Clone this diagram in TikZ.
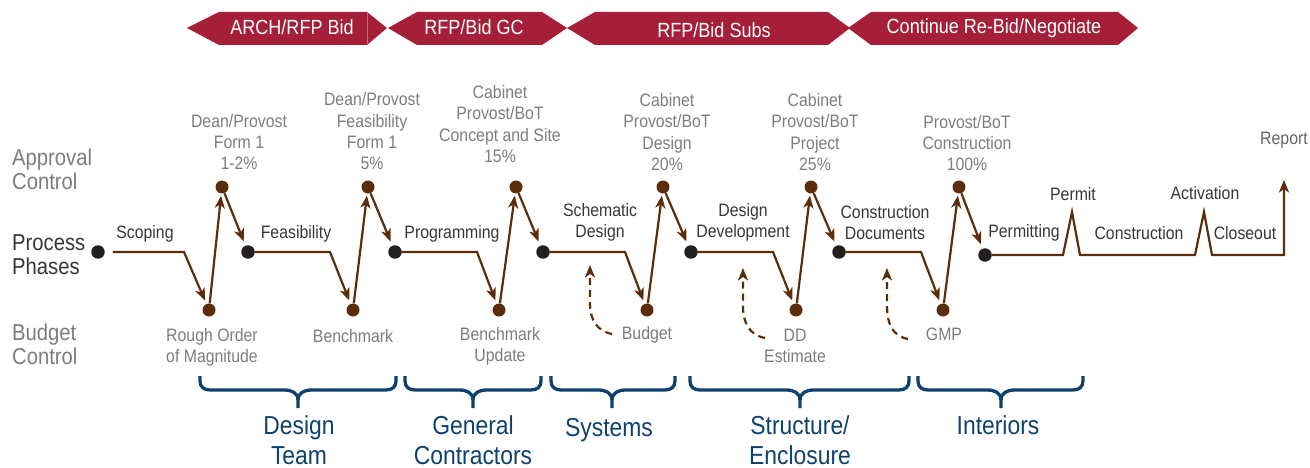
\documentclass[tikz,border=0pt]{standalone}
\usepackage{fontspec}
\setmainfont[FakeStretch=0.88]{Liberation Sans}
\usetikzlibrary{arrows.meta}
\definecolor{bannerred}{RGB}{165,31,56}
\definecolor{procbrown}{RGB}{92,45,10}
\definecolor{dotblack}{RGB}{35,31,32}
\definecolor{braceblue}{RGB}{14,66,110}
\definecolor{lblgray}{RGB}{125,125,125}
\definecolor{lbldark}{RGB}{55,55,55}
\newcommand{\bracedraw}[3]{%
  \draw[bracestyle] (#1,376) -- (#1,381) .. controls (#1,387) and ({#1+4},390) .. ({#1+10},390) -- ({#2-14},390) .. controls ({#2-6},390) and (#2,393) .. (#2,400) -- (#2,408);
  \draw[bracestyle] (#3,376) -- (#3,381) .. controls (#3,387) and ({#3-4},390) .. ({#3-10},390) -- ({#2+14},390) .. controls ({#2+6},390) and (#2,393) .. (#2,400);
}
\begin{document}
\begin{tikzpicture}[x=1pt,y=-1pt,
  pdot/.style={circle,fill=dotblack,inner sep=0pt,minimum size=13.5pt},
  adot/.style={circle,fill=procbrown,inner sep=0pt,minimum size=13pt},
  flow/.style={draw=procbrown,line width=2.2pt},
  arr/.style={flow,-{Stealth[length=12.5pt,width=10pt,inset=3.5pt]}},
  dasharr/.style={arr,dash pattern=on 7pt off 5pt},
  banner/.style={fill=bannerred,draw=none},
  bantext/.style={text=white,font=\fontsize{20.5}{24}\selectfont,inner sep=0pt,anchor=base},
  aptext/.style={text=lblgray,font=\fontsize{18}{21.3}\selectfont,align=center,inner sep=0pt},
  proctext/.style={text=lbldark,font=\fontsize{18}{21.3}\selectfont,align=center,inner sep=0pt},
  sidetext/.style={font=\fontsize{23}{24}\selectfont,align=left,anchor=west,inner sep=0pt},
  bracestyle/.style={draw=braceblue,line width=3.3pt},
  bracetext/.style={text=braceblue,font=\fontsize{26}{29.5}\selectfont,align=center,inner sep=0pt}
]
\useasboundingbox (0,0) rectangle (1310,468);

% banners
\fill[banner] (187,28) -- (219,12) -- (367,12) -- (387,28) -- (367,45) -- (219,45) -- cycle;
\draw[bannerred!65!white,line width=0.5pt] (367,12.5) -- (367,44.5);
\fill[banner] (388,28) -- (417,12) -- (542,12) -- (567,28) -- (542,45) -- (417,45) -- cycle;
\fill[banner] (567,28) -- (595,12) -- (828,12) -- (850,28) -- (828,45) -- (595,45) -- cycle;
\fill[banner] (848,28) -- (871,12) -- (1118,12) -- (1138,28) -- (1118,45) -- (871,45) -- cycle;
\node[bantext] (bn1) at (292,35) {ARCH/RFP Bid};
\node[bantext] (bn2) at (474,35) {RFP/Bid GC};
\node[bantext] (bn3) at (714,38) {RFP/Bid Subs};
\node[bantext] (bn4) at (994,34) {Continue Re-Bid/Negotiate};

% side labels
\node[sidetext,text=lblgray] (sa) at (12,169) {Approval\\Control};
\node[sidetext,text=lbldark] (sp) at (12,254.5) {Process\\Phases};
\node[sidetext,text=lblgray] (sb) at (12,344) {Budget\\Control};

% dots
\node[pdot] (p1) at (98,252) {};
\node[pdot] (p2) at (248,252) {};
\node[pdot] (p3) at (395,252) {};
\node[pdot] (p4) at (543,252) {};
\node[pdot] (p5) at (691,252) {};
\node[pdot] (p6) at (839,252) {};
\node[pdot] (p7) at (985,255) {};
\node[adot] (a1) at (222,187) {};
\node[adot] (a2) at (368,187) {};
\node[adot] (a3) at (516,187) {};
\node[adot] (a4) at (663,187) {};
\node[adot] (a5) at (811,187) {};
\node[adot] (a6) at (959,187) {};
\node[adot] (b1) at (209,310) {};
\node[adot] (b2) at (353,310) {};
\node[adot] (b3) at (499,310) {};
\node[adot] (b4) at (647,310) {};
\node[adot] (b5) at (796,310) {};
\node[adot] (b6) at (943,310) {};

\coordinate (c1) at (184,252);
\coordinate (c2) at (330,252);
\coordinate (c3) at (477,252);
\coordinate (c4) at (625,252);
\coordinate (c5) at (773,252);
\coordinate (c6) at (921,252);

% process -> budget
\draw[arr,shorten <=8pt,shorten >=3.5pt] (p1) -- (c1) -- (b1);
\draw[arr,shorten >=3.5pt] (p2) -- (c2) -- (b2);
\draw[arr,shorten >=3.5pt] (p3) -- (c3) -- (b3);
\draw[arr,shorten >=3.5pt] (p4) -- (c4) -- (b4);
\draw[arr,shorten >=3.5pt] (p5) -- (c5) -- (b5);
\draw[arr,shorten >=3.5pt] (p6) -- (c6) -- (b6);
% budget -> approval
\draw[arr,shorten >=2pt] (b1) -- (a1);
\draw[arr,shorten >=2pt] (b2) -- (a2);
\draw[arr,shorten >=2pt] (b3) -- (a3);
\draw[arr,shorten >=2pt] (b4) -- (a4);
\draw[arr,shorten >=2pt] (b5) -- (a5);
\draw[arr,shorten >=2pt] (b6) -- (a6);
% approval -> next process
\draw[arr,shorten >=4.5pt] (a1) -- (p2);
\draw[arr,shorten >=4.5pt] (a2) -- (p3);
\draw[arr,shorten >=4.5pt] (a3) -- (p4);
\draw[arr,shorten >=4.5pt] (a4) -- (p5);
\draw[arr,shorten >=4.5pt] (a5) -- (p6);
\draw[arr,shorten >=4.5pt] (a6) -- (p7);

% permitting / construction line
\coordinate (rep) at (1284,180);
\draw[arr] (p7) -- (1063,255) -- (1072,212) -- (1080,255) -- (1195,255) -- (1204,212) -- (1212,255) -- (1284,255) -- (rep);

% dashed feedback arrows
\coordinate (d1s) at (612,334); \coordinate (d1e) at (590,265);
\coordinate (d2s) at (765,338); \coordinate (d2e) at (743,268);
\coordinate (d3s) at (908,339); \coordinate (d3e) at (887,268);
\draw[dasharr] (d1s) .. controls (597,331) and (590,320) .. (590,303) -- (d1e);
\draw[dasharr] (d2s) .. controls (750,335) and (743,324) .. (743,306) -- (d2e);
\draw[dasharr] (d3s) .. controls (893,336) and (887,325) .. (887,305) -- (d3e);

% process labels
\node[proctext] (l1) at (145,234) {Scoping};
\node[proctext] (l2) at (296,234) {Feasibility};
\node[proctext] (l3) at (452,234) {Programming};
\node[proctext] (l4) at (600,222.5) {Schematic\\Design};
\node[proctext] (l5) at (743,222.5) {Design\\Development};
\node[proctext] (l6) at (885,222.5) {Construction\\Documents};
\node[proctext] (l7) at (1024,233) {Permitting};
\node[proctext] (l8) at (1139,233) {Construction};
\node[proctext] (l9) at (1245,233) {Closeout};
\node[proctext] (l10) at (1073,194) {Permit};
\node[proctext] (l11) at (1205,193) {Activation};
\node[proctext,text=lblgray!80!black] (l12) at (1284,140) {Report};

% approval labels
\node[aptext] (al1) at (239,142) {Dean/Provost\\Form 1\\1-2\%};
\node[aptext] (al2) at (372,131.5) {Dean/Provost\\Feasibility\\Form 1\\5\%};
\node[aptext] (al3) at (500,124) {Cabinet\\Provost/BoT\\Concept and Site\\15\%};
\node[aptext] (al4) at (667,132) {Cabinet\\Provost/BoT\\Design\\20\%};
\node[aptext] (al5) at (815,132) {Cabinet\\Provost/BoT\\Project\\25\%};
\node[aptext] (al6) at (967,143) {Provost/BoT\\Construction\\100\%};

% budget labels
\node[aptext] (bl1) at (212,347) {Rough Order\\of Magnitude};
\node[aptext] (bl2) at (353,336) {Benchmark};
\node[aptext] (bl3) at (500,346) {Benchmark\\Update};
\node[aptext] (bl4) at (647,335) {Budget};
\node[aptext] (bl5) at (795,346) {DD\\Estimate};
\node[aptext] (bl6) at (944,334) {GMP};

% braces
\bracedraw{200}{298}{396}
\bracedraw{405}{473}{541}
\bracedraw{551}{612}{675}
\bracedraw{690}{800}{909}
\bracedraw{918}{1001}{1083}
\node[bracetext] (t1) at (299,440) {Design\\Team};
\node[bracetext] (t2) at (473,440) {General\\Contractors};
\node[bracetext] (t3) at (609,430) {Systems};
\node[bracetext] (t4) at (800,440) {Structure/\\Enclosure};
\node[bracetext] (t5) at (998,425) {Interiors};
\end{tikzpicture}
\end{document}
